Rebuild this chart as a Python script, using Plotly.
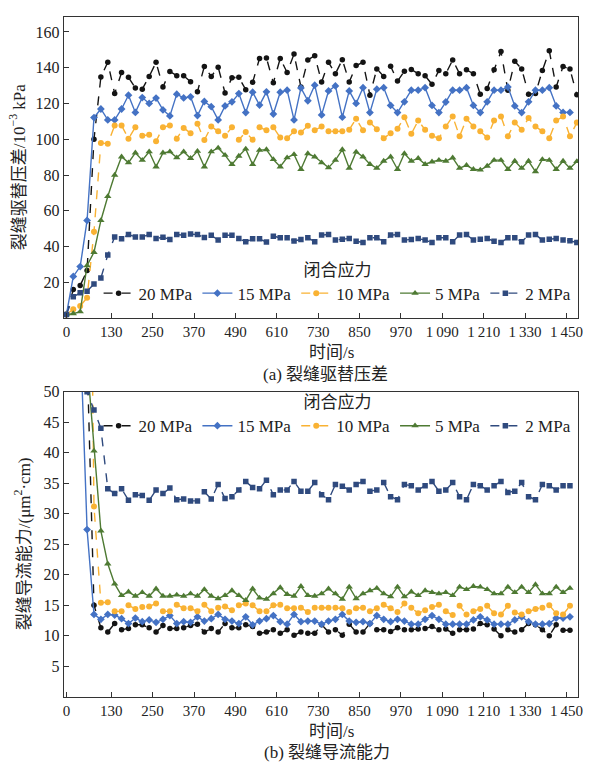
import plotly.graph_objects as go

# ---------------- data ----------------
times = list(range(0, 1500, 20))          # 75 sampling times (s)
times_b = times[:74]

tick_vals = [0, 130, 250, 370, 490, 610, 730, 850, 970, 1090, 1210, 1330, 1450]
tick_text = ["0", "130", "250", "370", "490", "610", "730", "850", "970",
             "1\u2009090", "1\u2009210", "1\u2009330", "1\u2009450"]

series_names = ["20 MPa", "15 MPa", "10 MPa", "5 MPa", "2 MPa"]

# (a) fracture displacement pressure difference, 10^-3 kPa
p20 = [2, 16.0, 18.2, 26.6, 100, 134.8, 143, 125.5, 137.3, 134.6,
       128.7, 128, 135.1, 143, 129.2, 137.9, 135.5, 135.5, 132.2, 126.6,
       140.7, 135.1, 140.3, 125.9, 134.4, 134.6, 127.7, 131.8, 145.2, 145.4,
       131.6, 145.2, 137.3, 147.6,
       129.2, 144.3, 146.7, 132, 143, 136.6, 144.5, 132, 141.2, 143,
       124.6, 139.3, 135.1, 140.8, 132.5, 138, 139, 136.6, 135.5, 130.7,
       138.4, 136.6, 144.3, 136.6, 138.8, 136.6, 125.2, 128.3, 138.8, 149,
       127.4, 143.6, 139.3, 125.2, 125.5, 138.4, 149.5, 129.2, 140.7, 139.2,
       124.8]
p15 = [2, 23.3, 28.8, 54.6, 112.1, 116.9, 110.8, 110.8, 116.9, 124.6,
       115, 123.3, 120, 123, 116.4, 113, 125.2, 123.1, 123.7, 113.2,
       121.1, 118.2, 110.8, 118.6, 120.9, 125.5, 114.9, 126.3, 119.1, 126.5,
       114.1, 126.3, 127.4, 110.8,
       128.7, 121.5, 130.2, 113.6, 127, 129.8, 112.3, 127, 120, 128.8,
       114.9, 128, 128.8, 118.9, 114.9, 120.9, 127.4, 127.4, 128.8, 118.9,
       114.9, 120.8, 127.4, 127.4, 128.8, 118.9, 114.9, 120.9, 127.4, 127.4,
       129.2, 118.6, 114.9, 120.9, 127.4, 127.4, 128.8, 118.6, 115, 115,
       None]
p10 = [2, 4.9, 6.7, 11.4, 48.2, 97.9, 97.5, 107.7, 107.7, 100.3,
       106.7, 102, 102.5, 98.8, 106.7, 107.7, 100.3, 106.3, 103.4, 108.6,
       99.5, 107.1, 104.4, 102, 106.7, 99.7, 104, 99.7, 106.7, 105,
       106.7, 100.9, 100.5, 104.4,
       103.8, 107.5, 105, 107.1, 104.4, 104.4, 104.4, 105.3, 111.4, 105,
       109.3, 105.6, 100.5, 103.4, 105.9, 112.3, 103, 110.4, 105.3, 102,
       100.5, 107.1, 112.7, 101.6, 111.4, 107.1, 104.4, 100.9, 110.4, 112.7,
       101.6, 109.3, 105.3, 111.8, 107.1, 104.4, 100.5, 110.4, 112.7, 101.6,
       109.3]
p5 = [2, 2.5, 3.6, 29.4, 36.8, 54.6, 68, 80, 90.2, 86.9,
      92.4, 88.3, 93, 84.6, 92.4, 93, 89.7, 93, 89.3, 93.3,
      84.6, 93, 95.1, 91.1, 85.9, 90.6, 94.6, 85.9, 93.9, 94.2,
      88.7, 84.6, 89.7, 91.5,
      83.2, 92, 90.2, 86.9, 84.1, 88.3, 94.2, 83.8, 92.9, 90.2,
      86, 83.8, 87.8, 90.2, 83.2, 92, 87.8, 89.3, 86, 87.4,
      88.3, 87.8, 89.6, 83.8, 85.4, 83.2, 82.8, 85, 88.3, 88.3,
      83.2, 87.8, 83.8, 87.8, 81.9, 88.7, 88.3, 83.2, 87.8, 83.8,
      87.6]
p2 = [2, 11.9, 14.1, 15, 19.1, 22.4, 35.3, 45.4, 44.3, 46.7,
      45.4, 45.4, 46.7, 44.5, 45.2, 44, 46.7, 46.3, 47, 46.7,
      45, 46.3, 43.6, 46.3, 46.3, 44.5, 42.7, 44.3, 44.3, 42.5,
      45.8, 44.9, 44.9, 43.1,
      44, 44.9, 42.7, 46.4, 46.7, 43.6, 44.1, 44.5, 43, 42.3,
      44.9, 44.9, 42.7, 46.4, 46.7, 43.6, 44, 44.5, 43.6, 42.3,
      44.9, 44.9, 42.7, 46.4, 46.7, 43.6, 44.1, 44.5, 43, 42.3,
      44.9, 44.9, 42.7, 46.4, 46.7, 43.6, 44.1, 44.5, 43.6, 43.2,
      42.3]

# (b) fracture conductivity, um^2*cm
c20 = [750, 94, 82, 56, 15.0,
       11.3, 10.6, 12, 11, 11.2, 11.8, 11.8, 11.3, 10.6, 11.7,
       11.2, 11.2, 11.3, 11.7, 11.9, 10.6, 11.2, 10.6, 12, 11.3, 11.3,
       11.8, 11.5, 10.4, 10.6, 11, 10.4, 11,
       10.1, 10.6, 10.4, 10.4, 11.8, 10.6, 11, 10.1, 11.9, 10.6,
       10.6, 12, 11, 11, 10.7, 11.3, 11, 11, 11.1, 11.2,
       11.5, 11, 11.1, 10.4, 11, 11, 11.1, 12, 11.8, 11.1,
       10, 11, 10.6, 11, 12, 11.8, 11, 10, 11.8, 10.9,
       10.9]
c15 = [750, 90, 60, 27.4,
       13.5, 12.7, 13.5, 13.4, 12.8, 12, 12.9, 12.3, 12.6, 12.2, 12.7,
       13.3, 12, 12.3, 12.2, 13.1, 12.4, 12.8, 13.5, 12.7, 12.4, 12,
       13.1, 11.8, 12.4, 12.8, 13.3, 12.3, 11.9, 13.5, 12.3, 12.4,
       12.4, 11.9, 12.4, 12.7, 13.5, 12.4, 12.2, 12.3, 12, 13.3,
       12.7, 12.3, 12.7, 12.4,
       11.9, 11.9, 12.7, 13.3, 12.7, 11.9, 11.9, 11.9, 11.9, 12.6,
       13.1, 12.6, 11.9, 11.9, 11.9, 12.6, 13.1, 12.3, 11.9, 11.9,
       12, 12.9, 12.9, 13.1]
c10 = [750, 306, 224, 131, 31.2,
       15.4, 15.5, 14, 14, 15, 14.4, 14.7, 14.8, 15.3, 14,
       14, 15.1, 14.5, 14.5, 14, 15.1, 14, 14.6, 14.8,
       14.2, 15, 15.3, 15, 14, 14, 15, 15.1, 14.5, 14.5,
       14.6, 13.9, 14.6, 14.6, 14.6, 14.6, 14.5, 13.9, 14.5, 14.6,
       14, 14.5, 15.1, 14.5, 13.9, 15.3,
       14.6, 13.7, 14.2, 14.7, 15.1, 14, 13.4, 14.9, 13.5, 14,
       14.4, 14.9, 13.7, 13.5, 14.9, 13.8, 13.5, 14, 14.4, 14.6,
       15, 13.7, 13.5, 14.9]
c5 = [750, 600, 417, 55, 40.3, 27.2,
      21.8, 18.5, 16.6, 17.2, 16.5, 17.1, 16.5, 17.7, 16.5, 16.5,
      16.7, 16.5, 16.9, 16.5, 17.6, 16.5, 16.1, 16.6, 17.4, 16.6,
      15.8, 17.7, 16.2, 16, 16.9, 17.9, 16.8, 16.5, 18.1, 16.6,
      16.5, 16.9, 17.7, 16.9, 16, 18, 16.1, 16.9, 17.4, 17.8,
      16.9, 16.4, 18, 16.4,
      17.2, 16.6, 17.4, 17.1, 16.9, 17.1, 16.6, 18, 17.6, 18.1,
      18, 17.6, 16.9, 16.9, 18, 17.1, 18, 17.1, 18.4, 16.9,
      16.9, 18, 17.1, 17.8]
c2 = [750, 126, 55, 50,
      47, 44, 34.1, 33.3, 34.1, 32.2, 33.1, 33, 32.2, 33.9,
      33.3, 34.2, 32.3, 32.4, 32.1, 32.1, 33.6, 32.4, 34.8, 32.5,
      32.8, 33.9, 35.3, 34.3, 34.1, 35.5, 33.1, 33.9, 33.9, 35.3,
      33.7, 33.7, 35.1, 33.1, 32.3, 34.8, 34.5, 33.9, 34.8, 35.3,
      33.7, 33.9, 35.1, 32.8, 32.3, 34.8, 34.6, 33.9, 34.6, 35.3,
      33.7, 33.9, 35.1, 32.8, 32.3, 34.8, 34.6, 33.9, 34.6, 35.3,
      33.5, 33.7, 35.1, 32.8, 32.3, 34.8, 34.6, 33.9, 34.6, 34.6]

# ---------------- styles ----------------
colors = ["#141414", "#4472C4", "#F9B233", "#4E7A33", "#2F4A7E"]
dashes = ["dash", "solid", "dash", "solid", "dash"]
symbols = ["circle", "diamond", "circle", "triangle-up", "square"]
msizes = [5.5, 6, 6, 6.5, 5.5]

FONT = "Liberation Serif, Noto Sans CJK SC, serif"
OFF = 8                      # page body margin offset
W, H = 591 - OFF, 769 - OFF
X0, X1 = 63.3, 583.3
TOP_Y0, TOP_Y1 = 8.6, 313.3            # reference top frame at ~6 px, clamped
TOP_MAX = 170 * (TOP_Y1 - TOP_Y0) / (TOP_Y1 - 6)
BOT_Y0, BOT_Y1 = 387.7, 696


def px(v):
    return (v - OFF) / W


def py(v):
    return min(1.0, (H - (v - OFF)) / H)


fig = go.Figure()

top_vals = [p20, p15, p10, p5, p2]
bot_vals = [c20, c15, c10, c5, c2]

for i, name in enumerate(series_names):
    fig.add_trace(go.Scatter(
        x=times, y=top_vals[i], name=name, mode="lines+markers",
        xaxis="x", yaxis="y", legend="legend",
        line=dict(color=colors[i], width=1.4, dash=dashes[i]),
        marker=dict(symbol=symbols[i], size=msizes[i], color=colors[i]),
        connectgaps=False,
    ))
for i, name in enumerate(series_names):
    fig.add_trace(go.Scatter(
        x=times_b, y=bot_vals[i], name=name, mode="lines+markers",
        xaxis="x2", yaxis="y2", legend="legend2",
        line=dict(color=colors[i], width=1.4, dash=dashes[i]),
        marker=dict(symbol=symbols[i], size=msizes[i], color=colors[i]),
    ))

axis_common = dict(
    showline=True, linecolor="#333333", linewidth=1.2, mirror=True,
    ticks="inside", ticklen=5, tickwidth=1, tickcolor="#333333",
    showgrid=False, zeroline=False,
)
xfont = dict(family=FONT, size=15, color="#222222")
yfont = dict(family=FONT, size=16, color="#222222")

xr = [-7.7, 1484.4]
fig.update_layout(
    width=W, height=H,
    margin=dict(l=0, r=0, t=0, b=0),
    paper_bgcolor="white", plot_bgcolor="white",
    font=dict(family=FONT, size=16, color="#222222"),
    xaxis=dict(domain=[px(X0), px(X1)], anchor="y", range=xr,
               tickvals=tick_vals, ticktext=tick_text, tickfont=xfont, **axis_common),
    yaxis=dict(domain=[py(TOP_Y1), py(TOP_Y0)], anchor="x", range=[0, TOP_MAX],
               tickvals=list(range(20, 161, 20)), tickfont=yfont, **axis_common),
    xaxis2=dict(domain=[px(X0), px(X1)], anchor="y2", range=xr,
                tickvals=tick_vals, ticktext=tick_text, tickfont=xfont, **axis_common),
    yaxis2=dict(domain=[py(BOT_Y1), py(BOT_Y0)], anchor="x2", range=[0, 50],
                tickvals=list(range(5, 51, 5)), tickfont=yfont, **axis_common),
    legend=dict(orientation="h", x=px(340), xanchor="center",
                y=py(248), yanchor="top", bgcolor="rgba(0,0,0,0)",
                font=dict(family=FONT, size=17, color="#222222"),
                title=dict(text="闭合应力", side="top center",
                           font=dict(family=FONT, size=17, color="#222222"))),
    legend2=dict(orientation="h", x=px(340), xanchor="center",
                 y=py(382), yanchor="top", bgcolor="rgba(0,0,0,0)",
                 font=dict(family=FONT, size=17, color="#222222"),
                 title=dict(text="闭合应力", side="top center",
                            font=dict(family=FONT, size=17, color="#222222"))),
    showlegend=True,
)

ann_font = dict(family=FONT, size=17, color="#222222")
annotations = [
    dict(text="时间/s", x=px(334), y=py(348)),
    dict(text="(a) 裂缝驱替压差", x=px(328), y=py(370)),
    dict(text="时间/s", x=px(334), y=py(731)),
    dict(text="(b) 裂缝导流能力", x=px(329), y=py(752)),
    dict(text="裂缝驱替压差/10<sup>−3</sup> kPa", x=px(17), y=py(160), textangle=-90),
    dict(text="裂缝导流能力/(μm<sup>2</sup>·cm)", x=px(22), y=py(541), textangle=-90),
]
for a in annotations:
    fig.add_annotation(xref="paper", yref="paper", showarrow=False,
                       xanchor="center", yanchor="middle", font=ann_font, **a)

fig.write_html("out.html")
